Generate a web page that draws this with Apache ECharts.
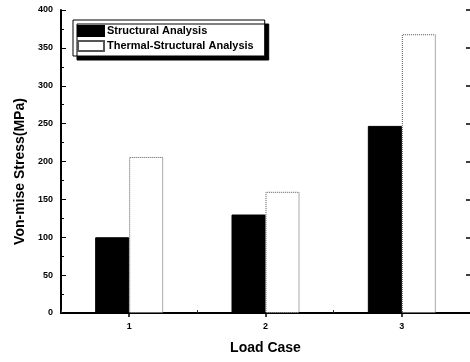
<!DOCTYPE html>
<html>
<head>
<meta charset="utf-8">
<script src="https://cdn.jsdelivr.net/npm/echarts@6/dist/echarts.min.js"></script>
</head>
<body style="margin:0;background:#fff">
<div id="container" style="width:470px;height:362px"></div>
<script>
var loadCases = ['1', '2', '3'];
var structural = [100, 130, 247];
var thermalStructural = [206, 160, 368];

var chart = echarts.init(document.getElementById('container'));
var font = 'Liberation Sans, Arial, sans-serif';

var option = {
    backgroundColor: '#fff',
    animation: false,
    grid: { left: 61, right: -2, top: 10, bottom: 49 },
    legend: {
        orient: 'vertical',
        left: 73, top: 20,
        icon: 'rect',
        itemWidth: 26, itemHeight: 10, itemGap: 3,
        padding: [5, 11, 4, 4],
        backgroundColor: '#fff',
        borderColor: '#000', borderWidth: 1,
        shadowColor: '#000', shadowBlur: 0, shadowOffsetX: 4, shadowOffsetY: 4,
        textStyle: { fontFamily: font, fontWeight: 'bold', fontSize: 11, color: '#000', padding: [0, 0, 0, -2] },
        data: ['Structural Analysis', 'Thermal-Structural Analysis']
    },
    xAxis: [{
        type: 'category',
        data: loadCases,
        name: 'Load Case',
        nameLocation: 'middle',
        nameGap: 28,
        nameTextStyle: { fontFamily: font, fontWeight: 'bold', fontSize: 14, color: '#000' },
        axisLine: { lineStyle: { color: '#000', width: 2 } },
        axisTick: { show: true, inside: true, length: 3, lineStyle: { color: '#333' } },
        axisLabel: { fontFamily: font, fontWeight: 'bold', fontSize: 9, color: '#000', margin: 9 }
    }, {
        type: 'category',
        position: 'top',
        data: loadCases,
        axisLine: { lineStyle: { color: '#000', width: 1.5 } },
        axisTick: { show: true, inside: true, alignWithLabel: true, length: 4, lineStyle: { color: '#000', width: 1.5 } },
        axisLabel: { show: false }
    }],
    yAxis: [{
        type: 'value',
        min: 0, max: 400, interval: 50,
        name: 'Von-mise Stress(MPa)',
        nameLocation: 'middle',
        nameGap: 32,
        nameTextStyle: { fontFamily: font, fontWeight: 'bold', fontSize: 14, color: '#000', padding: [0, 20, 0, 0] },
        axisLine: { show: true, lineStyle: { color: '#000', width: 2 } },
        axisTick: { show: true, inside: true, length: 5, lineStyle: { color: '#000' } },
        minorTick: { show: true, splitNumber: 2, length: 3, lineStyle: { color: '#000' } },
        splitLine: { show: false },
        axisLabel: { fontFamily: font, fontWeight: 'bold', fontSize: 9, color: '#000', margin: 8 }
    }, {
        type: 'value',
        position: 'right',
        min: 0, max: 400, interval: 50,
        axisLine: { show: true, lineStyle: { color: '#000', width: 1 } },
        axisTick: { show: true, inside: true, length: 4, lineStyle: { color: '#000', width: 1.5 } },
        splitLine: { show: false },
        axisLabel: { show: false }
    }],
    series: [{
        name: 'Structural Analysis',
        type: 'bar',
        data: structural,
        barWidth: 34,
        barGap: '0%',
        itemStyle: { color: '#000', borderColor: '#000', borderWidth: 1 }
    }, {
        name: 'Thermal-Structural Analysis',
        type: 'bar',
        data: thermalStructural,
        barWidth: 34,
        itemStyle: { color: '#fff', borderColor: '#555', borderWidth: 1, borderType: 'dotted' }
    }]
};

chart.setOption(option);
</script>
</body>
</html>
